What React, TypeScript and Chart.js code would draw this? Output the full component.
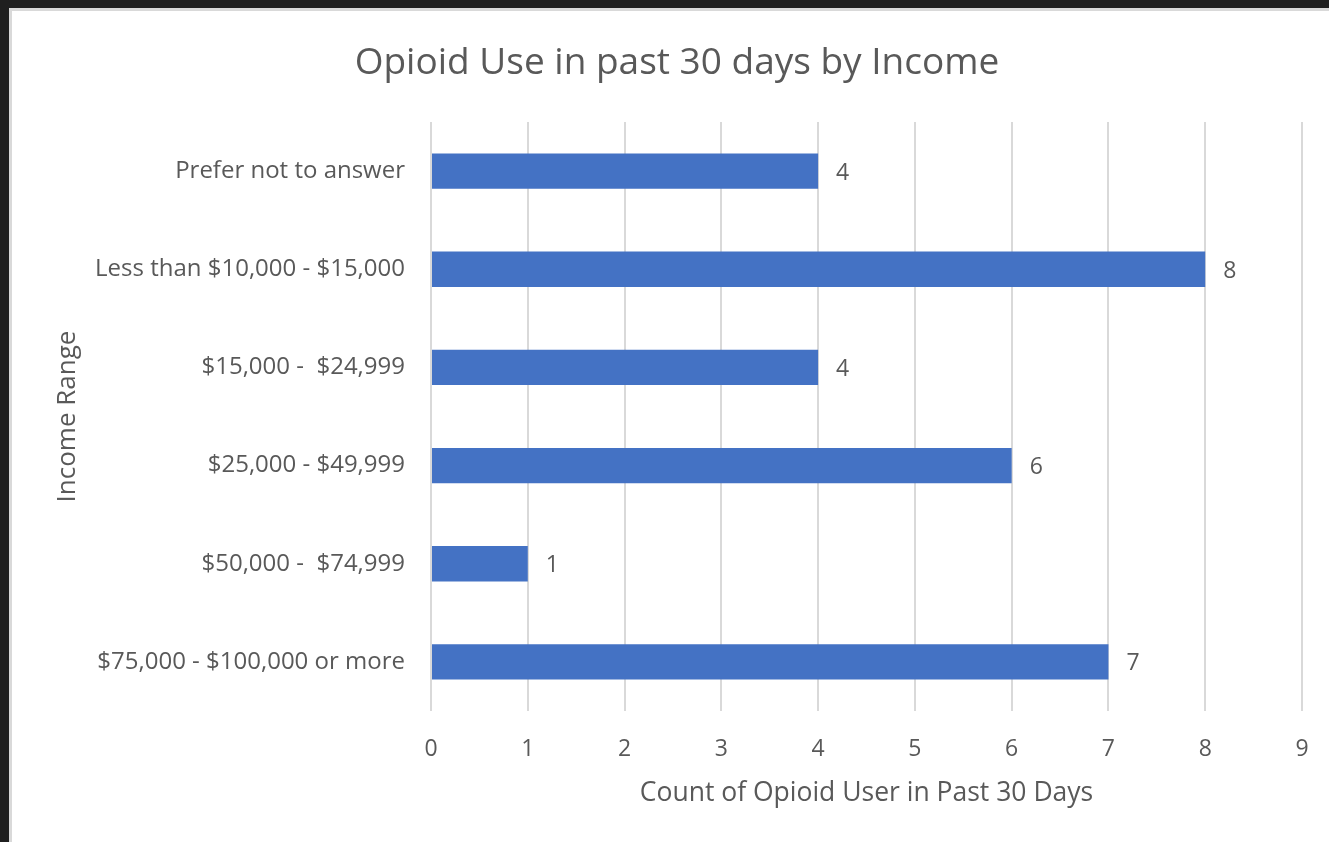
import React, { useEffect, useRef } from "react";
import { Chart, registerables } from "chart.js";

Chart.register(...registerables);

const categories = [
  "Prefer not to answer",
  "Less than $10,000 - $15,000",
  "$15,000 -  $24,999",
  "$25,000 - $49,999",
  "$50,000 -  $74,999",
  "$75,000 - $100,000 or more",
];
const counts = [4, 8, 4, 6, 1, 7];
const xTicks = [0, 1, 2, 3, 4, 5, 6, 7, 8, 9];

const chartTitle = "Opioid Use in past 30 days by Income";
const xTitle = "Count of Opioid User in Past 30 Days";
const yTitle = "Income Range";

const FONT = "'Open Sans', 'Noto Sans', sans-serif";
const GREY = "#595959";

const valueLabels = {
  id: "valueLabels",
  afterDatasetsDraw(chart: any) {
    const ctx = chart.ctx;
    const meta = chart.getDatasetMeta(0);
    ctx.save();
    ctx.font = `23px ${FONT}`;
    ctx.fillStyle = GREY;
    ctx.textAlign = "left";
    ctx.textBaseline = "middle";
    meta.data.forEach((bar: any, i: number) => {
      ctx.fillText(String(counts[i]), bar.x + 18, bar.y + 2);
    });
    ctx.restore();
  },
};

const headerTitle = {
  id: "headerTitle",
  afterDraw(chart: any) {
    const ctx = chart.ctx;
    ctx.save();
    ctx.font = `37px ${FONT}`;
    ctx.fillStyle = GREY;
    ctx.textAlign = "center";
    ctx.textBaseline = "middle";
    ctx.fillText(chartTitle, 665, 52);
    ctx.restore();
  },
};

export default function App() {
  const ref = useRef<HTMLCanvasElement>(null);
  useEffect(() => {
    const chart = new Chart(ref.current!, {
      type: "bar",
      data: {
        labels: categories,
        datasets: [
          {
            data: counts,
            backgroundColor: "#4472C4",
            barPercentage: 0.72,
            categoryPercentage: 0.5,
          },
        ],
      },
      options: {
        indexAxis: "y",
        animation: false,
        responsive: false,
        maintainAspectRatio: false,
        layout: { padding: { top: 111, right: 27, bottom: 0, left: 0 } },
        plugins: {
          legend: { display: false },
          tooltip: { enabled: false },
          title: { display: false },
        },
        scales: {
          x: {
            min: 0,
            max: 9,
            afterBuildTicks(scale: any) {
              scale.ticks = xTicks.map((v) => ({ value: v }));
            },
            afterFit(scale: any) {
              scale.height = 131;
              scale.paddingLeft = 0;
              scale.paddingRight = 0;
            },
            grid: { color: "#d9d9d9", lineWidth: 2, drawTicks: false },
            border: { display: false },
            ticks: {
              color: GREY,
              font: { family: FONT, size: 23 },
              padding: 25,
            },
            title: {
              display: true,
              text: xTitle,
              color: GREY,
              font: { family: FONT, size: 26.5, lineHeight: 1.2 },
              padding: { top: 0, bottom: 33 },
            },
          },
          y: {
            afterFit(scale: any) {
              scale.width = 419;
            },
            grid: { display: false, drawTicks: false },
            border: { display: false },
            ticks: {
              color: GREY,
              font: { family: FONT, size: 24 },
              padding: 26,
            },
            title: {
              display: true,
              text: yTitle,
              color: GREY,
              font: { family: FONT, size: 26, lineHeight: 1.2 },
              padding: 40,
            },
          },
        },
      },
      plugins: [valueLabels, headerTitle],
    });
    return () => chart.destroy();
  }, []);

  return (
    <div style={{ position: "fixed", inset: 0, background: "#1f1f1f" }}>
      <div
        style={{
          position: "absolute",
          left: 9,
          top: 8,
          right: 0,
          bottom: 0,
          background: "#ffffff",
          borderTop: "3px solid #d9d9d9",
          borderLeft: "3px solid #d9d9d9",
        }}
      >
        <canvas ref={ref} width={1317} height={831} style={{ display: "block" }} />
      </div>
    </div>
  );
}
